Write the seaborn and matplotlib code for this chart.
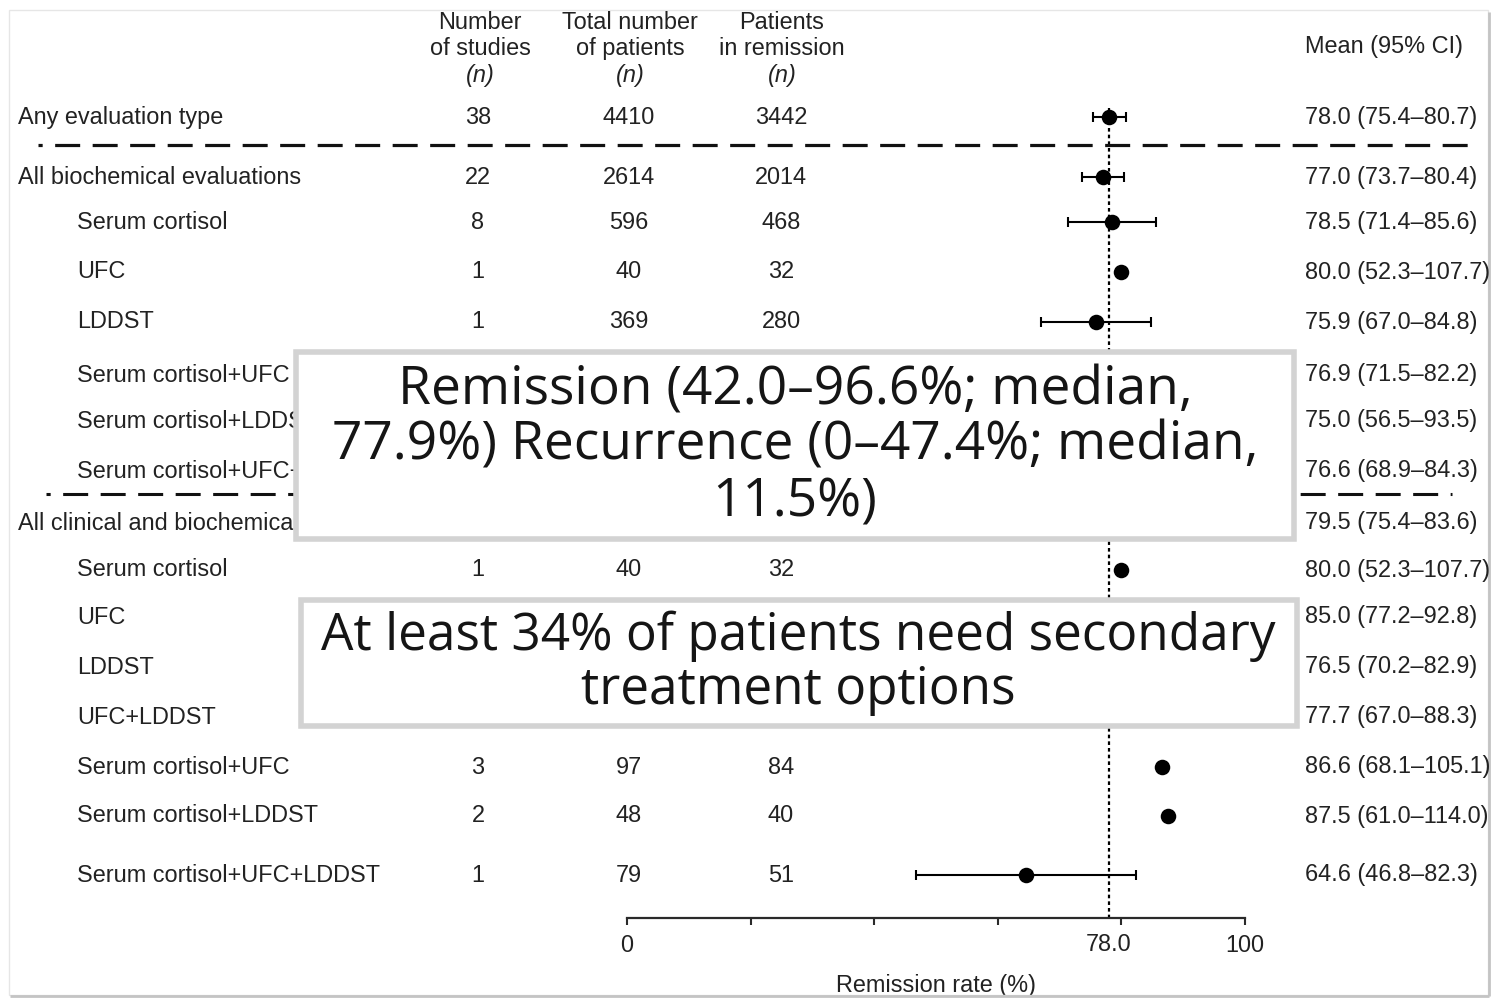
import matplotlib
matplotlib.use("Agg")
import matplotlib.pyplot as plt
from matplotlib.patches import Rectangle
import numpy as np
import pandas as pd
import seaborn as sns

# ---- data -----------------------------------------------------------------
row_labels = [
    "Any evaluation type",
    "All biochemical evaluations",
    "Serum cortisol",
    "UFC",
    "LDDST",
    "Serum cortisol+UFC",
    "Serum cortisol+LDDST",
    "Serum cortisol+UFC+LDDST",
    "All clinical and biochemical evaluations",
    "Serum cortisol",
    "UFC",
    "LDDST",
    "UFC+LDDST",
    "Serum cortisol+UFC",
    "Serum cortisol+LDDST",
    "Serum cortisol+UFC+LDDST",
]
row_level = [0, 0, 1, 1, 1, 1, 1, 1, 0, 1, 1, 1, 1, 1, 1, 1]

n_studies = [38, 22, 8, 1, 1, None, None, None, None, 1, None, None, None, 3, 2, 1]
n_patients = [4410, 2614, 596, 40, 369, None, None, None, None, 40, None, None, None, 97, 48, 79]
n_remission = [3442, 2014, 468, 32, 280, None, None, None, None, 32, None, None, None, 84, 40, 51]

mean_rate = [78.0, 77.0, 78.5, 80.0, 75.9, 76.9, 75.0, 76.6, 79.5, 80.0, 85.0, 76.5, 77.7, 86.6, 87.5, 64.6]
ci_low = [75.4, 73.7, 71.4, 52.3, 67.0, 71.5, 56.5, 68.9, 75.4, 52.3, 77.2, 70.2, 67.0, 68.1, 61.0, 46.8]
ci_high = [80.7, 80.4, 85.6, 107.7, 84.8, 82.2, 93.5, 84.3, 83.6, 107.7, 92.8, 82.9, 88.3, 105.1, 114.0, 82.3]
pooled_rate = 78.0

x_ticks = [0, 20, 40, 60, 80, 100]
x_tick_labels = ["0", "", "", "", "", "100"]

remission_note = ["Remission (42.0\u201396.6%; median,",
                  "77.9%) Recurrence (0\u201347.4%; median,",
                  "11.5%)"]
secondary_note = ["At least 34% of patients need secondary",
                  "treatment options"]

# ---- layout (pixel grid of the canvas) -----------------------------------
W, H = 1493, 998
row_y = [117, 177, 222, 272, 322, 375, 421, 471, 523, 570, 617, 667, 717, 767, 816, 875]
axis_y = 918
x0_px, x100_px = 627, 1245
col_x = [478, 629, 781]
label_x = [18, 77]
ci_text_x = 1305
ink = "#222222"
fs = 16.9

sns.set_theme(style="white")
plt.rcParams["font.family"] = ["Liberation Sans", "DejaVu Sans"]
plt.rcParams["lines.scale_dashes"] = False

fig = plt.figure(figsize=(W / 100, H / 100), dpi=100, facecolor="white")

# forest panel: x in remission %, y shares the canvas pixel rows
ax = fig.add_axes([x0_px / W, (H - axis_y) / H, (x100_px - x0_px) / W, axis_y / H])
ax.set_zorder(1)
ax.patch.set_alpha(0)

df = pd.DataFrame({"rate": mean_rate, "lo": ci_low, "hi": ci_high, "y": row_y})
inside = df[(df["lo"] >= 0) & (df["hi"] <= 100)]
ax.errorbar(inside["rate"], inside["y"],
            xerr=[inside["rate"] - inside["lo"], inside["hi"] - inside["rate"]],
            fmt="none", ecolor="black", elinewidth=1.5, capsize=3.6, capthick=1.5, zorder=2)
sns.scatterplot(data=df, x="rate", y="y", ax=ax, s=125, color="black",
                edgecolor="black", linewidth=0, zorder=3, legend=False)
ax.vlines(pooled_rate, 108, axis_y, colors="black", linewidth=1.6,
          linestyles=(0, (2.6, 2.2)), zorder=1)

ax.set_xlim(0, 100)
ax.set_ylim(axis_y, 0)
ax.set_yticks([])
ax.set_ylabel("")
for side in ["left", "right", "top"]:
    ax.spines[side].set_visible(False)
ax.spines["bottom"].set_linewidth(1.6)
ax.spines["bottom"].set_color("#2a2a2a")
ax.set_xticks(x_ticks)
ax.set_xticklabels(x_tick_labels)
ax.set_xticks([pooled_rate], minor=True)
ax.set_xticklabels([f"{pooled_rate:.1f}"], minor=True)
ax.tick_params(axis="x", which="major", direction="out", length=5, width=1.5,
               color="#2a2a2a", bottom=True, pad=6.5, labelsize=fs, labelcolor=ink)
ax.tick_params(axis="x", which="minor", length=0, bottom=True, pad=11.1,
               labelsize=fs, labelcolor=ink)
ax.set_xlabel("Remission rate (%)", fontsize=fs, color=ink, labelpad=12)

# overlay panel in canvas pixels for the table, separators and notes
ov = fig.add_axes([0, 0, 1, 1])
ov.set_zorder(2)
ov.set_xlim(0, W)
ov.set_ylim(H, 0)
ov.axis("off")

# header
heads = [["Number", "of studies"], ["Total number", "of patients"], ["Patients", "in remission"]]
head_x = [480, 630, 782]
for hx, lines in zip(head_x, heads):
    ov.text(hx, 22, lines[0], ha="center", va="center", fontsize=fs, color=ink)
    ov.text(hx, 48, lines[1], ha="center", va="center", fontsize=fs, color=ink)
    ov.text(hx, 75, "(n)", ha="center", va="center", fontsize=fs, color=ink, style="italic")
ov.text(ci_text_x, 46, "Mean (95% CI)", ha="left", va="center", fontsize=fs, color=ink)

# rows
for i, lab in enumerate(row_labels):
    y = row_y[i]
    ov.text(label_x[row_level[i]], y, lab, ha="left", va="center", fontsize=fs, color=ink)
    for cx, vals in zip(col_x, [n_studies, n_patients, n_remission]):
        if vals[i] is not None:
            ov.text(cx, y, str(vals[i]), ha="center", va="center", fontsize=fs, color=ink)
    ov.text(ci_text_x, y,
            f"{mean_rate[i]:.1f} ({ci_low[i]:.1f}\u2013{ci_high[i]:.1f})",
            ha="left", va="center", fontsize=fs, color=ink)

# group separators
ov.hlines(145, 38, 1476, colors="#111111", linewidth=2.3,
          linestyles=(15, (18, 9)), zorder=3)
ov.hlines(494, 46, 1452, colors="#111111", linewidth=2.2,
          linestyles=(15, (18, 9)), zorder=3)

# note boxes
ov.add_patch(Rectangle((295.5, 351.5), 998, 187, facecolor="white",
                       edgecolor="#d3d3d3", linewidth=4, zorder=5))
note_y = [391, 446, 503]
for ty, line in zip(note_y, remission_note):
    ov.text(795, ty, line, ha="center", va="center", fontsize=38.3,
            family="Open Sans", color="#151515", zorder=6)

ov.add_patch(Rectangle((300.5, 599.5), 996, 126, facecolor="white",
                       edgecolor="#d3d3d3", linewidth=4, zorder=5))
note2_y = [636, 690]
for ty, line in zip(note2_y, secondary_note):
    ov.text(798, ty, line, ha="center", va="center", fontsize=37,
            family="Open Sans", color="#151515", zorder=6)

# faint page frame
ov.add_patch(Rectangle((9, 10), 1479, 985, facecolor="none",
                       edgecolor="#e6e6e6", linewidth=1, zorder=0))
ov.vlines(1489, 12, 996, colors="#c4c4c4", linewidth=2, zorder=0)
ov.hlines(996, 10, 1489, colors="#c4c4c4", linewidth=2, zorder=0)

fig.savefig("out.png", dpi=100, facecolor="white")
